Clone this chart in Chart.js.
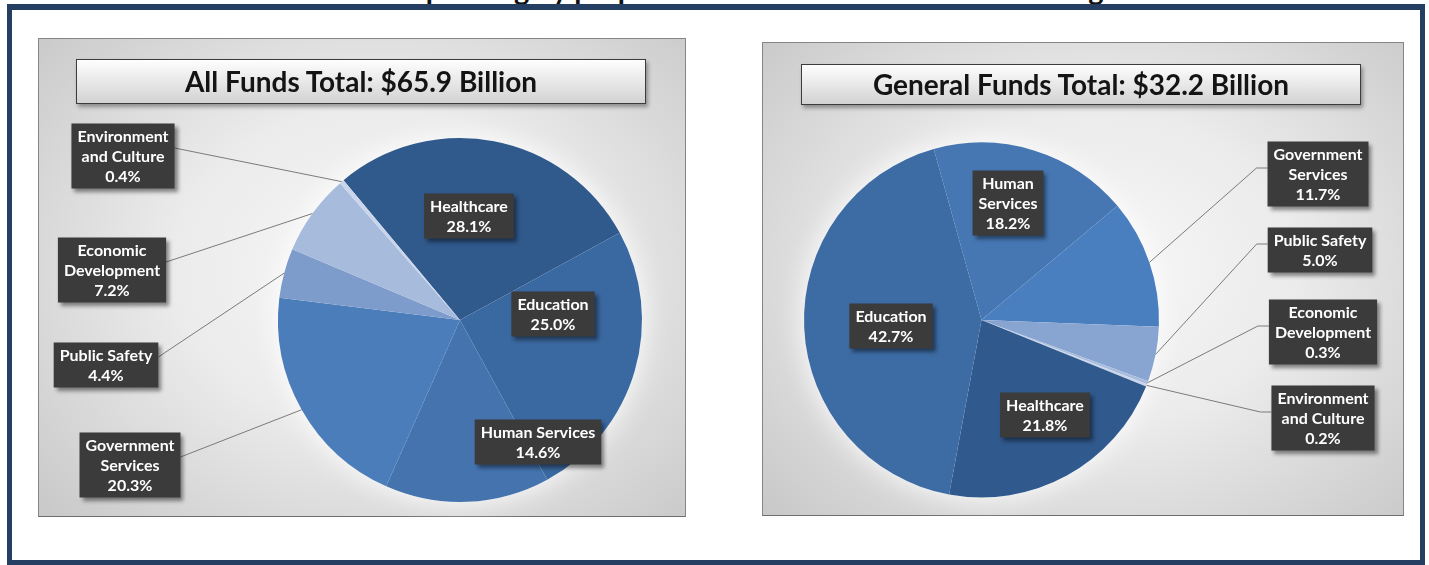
<!DOCTYPE html>
<html>
<head>
<meta charset="utf-8">
<script src="https://cdn.jsdelivr.net/npm/chart.js@4.4.1/dist/chart.umd.min.js"></script>
<style>
  body { margin: 0; width: 1429px; height: 565px; overflow: hidden; position: relative; background: #fff; font-family: Lato, "Open Sans", sans-serif; }
  #heading { position: absolute; left: 410px; top: -25px; white-space: nowrap; font: bold 29px/28px Lato, sans-serif; color: #111; }
  #frame { position: absolute; left: 7px; top: 4px; width: 1418px; height: 561px; box-sizing: border-box; border: 5px solid #243f62; border-top-width: 6px; }
  .panel { position: absolute; box-sizing: border-box; border: 1px solid #858585; border-bottom-color: #6e6e6e;
           background: radial-gradient(ellipse 70% 75% at 52% 48%, #f8f8f8 0%, #ebebeb 45%, #c9c9c9 100%); }
  .panel canvas { position: absolute; left: -1px; top: -1px; }
  .title-box { position: absolute; box-sizing: border-box; border: 1px solid #3c3c3c; text-align: center;
               background: linear-gradient(#fefefe, #e6e6e6 55%, #d2d2d2);
               box-shadow: 2px 3px 4px rgba(0,0,0,0.35);
               font: bold 28px Lato, sans-serif; color: #141414; }
</style>
</head>
<body>
<div id="heading">Spending by purpose: All Funds vs. General Fund budget</div>
<div id="frame"></div>

<div class="panel" style="left:38px; top:38px; width:648px; height:479px;">
  <canvas id="allFundsChart" width="648" height="479"></canvas>
  <div class="title-box" style="left:37px; top:20px; width:570px; height:45px; line-height:42px;">All Funds Total: $65.9 Billion</div>
</div>

<div class="panel" style="left:762px; top:42px; width:642px; height:474px;">
  <canvas id="generalFundsChart" width="642" height="474"></canvas>
  <div class="title-box" style="left:38px; top:21px; width:560px; height:41px; line-height:38px;">General Funds Total: $32.2 Billion</div>
</div>

<script>
// All funds, clockwise from the top-left edge of Healthcare
const allFundsCategories = ['Healthcare', 'Education', 'Human Services', 'Government Services', 'Public Safety', 'Economic Development', 'Environment and Culture'];
const allFundsShares = [28.1, 25.0, 14.6, 20.3, 4.4, 7.2, 0.4];
const allFundsColors = ['#30598c', '#3a68a0', '#4473ae', '#4a7dba', '#7d9bcb', '#a7bbdd', '#c9d5eb'];
const allFundsLines = [['Healthcare'], ['Education'], ['Human Services'], ['Government', 'Services'], ['Public Safety'], ['Economic', 'Development'], ['Environment', 'and Culture']];
const allFundsBoxes = [[431, 178], [515, 276], [500, 404], [92, 427], [68, 327], [74, 232], [85, 118]];
const allFundsOutside = [false, false, false, true, true, true, true];

// General funds, clockwise from the top edge of Human Services
const generalFundsCategories = ['Human Services', 'Government Services', 'Public Safety', 'Economic Development', 'Environment and Culture', 'Healthcare', 'Education'];
const generalFundsShares = [18.2, 11.7, 5.0, 0.3, 0.2, 21.8, 42.7];
const generalFundsColors = ['#4677b3', '#4a7fbf', '#88a5d2', '#a8bcdd', '#cad6eb', '#30598d', '#3d6ca5'];
const generalFundsLines = [['Human', 'Services'], ['Government', 'Services'], ['Public Safety'], ['Economic', 'Development'], ['Environment', 'and Culture'], ['Healthcare'], ['Education']];
const generalFundsBoxes = [[246, 161], [556, 132], [558, 208], [561, 290], [561, 376], [283, 373], [129, 284]];
const generalFundsOutside = [false, true, true, true, true, false, false];

// soft white halo behind the pie, then dark callout boxes on top
const calloutPlugin = {
  id: 'callouts',
  beforeDatasetsDraw(chart) {
    const arc = chart.getDatasetMeta(0).data[0];
    const ctx = chart.ctx;
    ctx.save();
    ctx.shadowColor = 'rgba(255,255,255,0.95)';
    ctx.shadowBlur = 28;
    ctx.fillStyle = '#ffffff';
    ctx.beginPath();
    ctx.arc(arc.x, arc.y, arc.outerRadius, 0, Math.PI * 2);
    ctx.fill();
    ctx.restore();
  },
  afterDatasetsDraw(chart, args, opts) {
    const ctx = chart.ctx;
    const meta = chart.getDatasetMeta(0);
    const values = chart.data.datasets[0].data;
    ctx.save();
    ctx.font = 'bold 16px Lato, sans-serif';
    opts.boxes.forEach((pos, i) => {
      const arc = meta.data[i];
      const lines = opts.lines[i].concat(values[i].toFixed(1) + '%');
      const w = Math.max(...lines.map(t => ctx.measureText(t).width)) + 12;
      const h = lines.length * 20 + 5;
      const x0 = pos[0] - w / 2;
      const y0 = pos[1] - h / 2;

      if (opts.outside[i]) {
        const mid = (arc.startAngle + arc.endAngle) / 2;
        const sx = arc.x + Math.cos(mid) * arc.outerRadius;
        const sy = arc.y + Math.sin(mid) * arc.outerRadius;
        ctx.strokeStyle = '#7a7a7a';
        ctx.lineWidth = 1;
        ctx.beginPath();
        ctx.moveTo(sx, sy);
        if (pos[0] < arc.x) {
          ctx.lineTo(x0 + w, pos[1] - 8);
        } else {
          ctx.lineTo(x0 - 11, pos[1] - 6);
          ctx.lineTo(x0, pos[1] - 6);
        }
        ctx.stroke();
      }

      ctx.save();
      ctx.shadowColor = 'rgba(0,0,0,0.45)';
      ctx.shadowBlur = 4;
      ctx.shadowOffsetX = 3;
      ctx.shadowOffsetY = 3;
      ctx.fillStyle = '#3b3b3b';
      ctx.fillRect(x0, y0, w, h);
      ctx.restore();

      ctx.fillStyle = '#ffffff';
      ctx.textAlign = 'center';
      ctx.textBaseline = 'middle';
      lines.forEach((t, k) => {
        ctx.fillText(t, pos[0], y0 + 3 + 10 + k * 20);
      });
    });
    ctx.restore();
  }
};

function makePie(id, labels, values, colors, rotation, padding, lines, boxes, outside) {
  return new Chart(document.getElementById(id), {
    type: 'pie',
    data: {
      labels: labels,
      datasets: [{
        data: values,
        backgroundColor: colors,
        borderWidth: 0
      }]
    },
    options: {
      responsive: false,
      animation: false,
      devicePixelRatio: 1,
      rotation: rotation,
      layout: { padding: padding },
      plugins: {
        legend: { display: false },
        tooltip: { enabled: false },
        callouts: { lines: lines, boxes: boxes, outside: outside }
      }
    },
    plugins: [calloutPlugin]
  });
}

makePie('allFundsChart', allFundsCategories, allFundsShares, allFundsColors, -39.8,
  { left: 240, right: 44, top: 100, bottom: 15 },
  allFundsLines, allFundsBoxes, allFundsOutside);

makePie('generalFundsChart', generalFundsCategories, generalFundsShares, generalFundsColors, -15.6,
  { left: 42, right: 245, top: 100, bottom: 18 },
  generalFundsLines, generalFundsBoxes, generalFundsOutside);
</script>
</body>
</html>
